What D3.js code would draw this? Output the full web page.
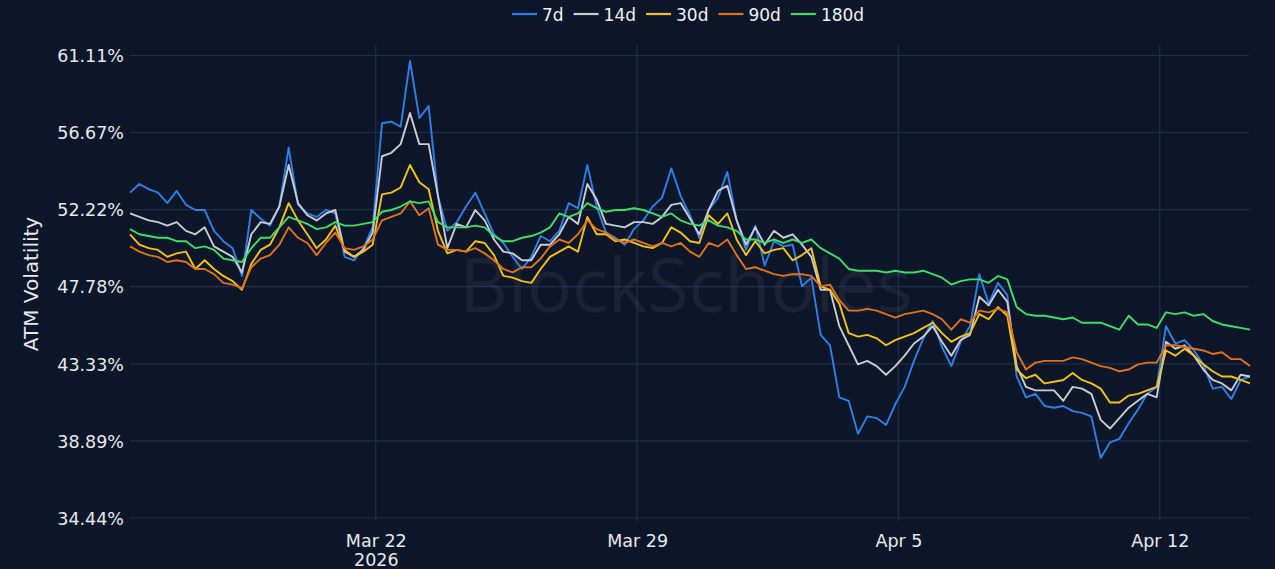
<!DOCTYPE html>
<html>
<head>
<meta charset="utf-8">
<script src="https://cdn.jsdelivr.net/npm/d3@7"></script>
<style>
  html, body { margin: 0; padding: 0; background: #0e1729; }
  svg { display: block; }
</style>
</head>
<body>
<svg id="chart" width="1275" height="569"></svg>
<script>
// ---- Data (6-hourly samples, starting 2026-03-15 10:00 UTC) ----
const startTime = "2026-03-15T10:00:00Z";
const stepHours = 6;

const seriesNames = ["7d", "14d", "30d", "90d", "180d"];
const seriesColors = ["#2f7fe6", "#c9ccd3", "#f2c21b", "#e0711f", "#3fdc68"];

const vol7d = [53.2,53.7,53.4,53.2,52.6,53.3,52.5,52.2,52.2,51.0,50.4,50.0,48.4,52.2,51.7,51.3,52.4,55.8,52.5,52.0,
51.8,52.2,52.0,49.5,49.3,50.0,51.2,57.2,57.3,57.0,60.8,57.5,58.2,53.0,51.0,51.5,52.4,53.2,52.0,50.8,
50.3,49.5,48.8,49.5,50.7,50.4,51.0,52.6,52.3,54.8,52.4,50.9,50.6,50.2,51.1,51.6,52.4,52.9,54.6,53.0,
51.9,50.6,52.2,52.9,54.4,51.6,49.9,51.3,49.0,50.4,50.1,50.2,47.8,48.3,45.0,44.4,41.4,41.2,39.3,40.3,
40.2,39.8,41.0,42.0,43.5,44.8,45.8,44.3,43.2,44.6,45.5,48.5,46.8,48.0,47.3,42.6,41.4,41.6,40.9,40.8,
40.9,40.6,40.5,40.3,37.9,38.8,39.0,39.9,40.7,41.6,42.0,45.5,44.5,44.7,44.1,43.3,41.9,42.0,41.3,42.4,42.6];

const vol14d = [52.0,51.8,51.6,51.5,51.3,51.5,51.0,50.8,51.2,50.1,49.8,49.5,48.6,50.8,51.5,51.4,52.4,54.8,52.6,51.9,
51.6,52.0,52.2,49.8,49.5,49.9,50.9,55.3,55.5,56.0,57.8,56.0,56.0,53.0,50.0,51.4,51.2,52.2,51.6,50.5,
49.8,49.7,49.3,49.3,50.2,50.2,50.8,51.8,51.4,53.7,52.8,51.4,51.3,51.2,51.5,51.5,51.4,51.8,52.5,52.6,
51.7,50.8,52.2,53.3,53.6,51.6,50.2,51.2,50.2,51.0,50.6,50.8,50.2,49.5,47.6,47.6,45.5,44.4,43.3,43.5,
43.2,42.7,43.2,43.8,44.5,44.9,45.5,44.6,43.8,44.7,45.0,47.2,46.7,47.6,46.9,43.2,42.0,41.8,41.8,41.8,
41.2,42.0,41.9,41.6,40.1,39.6,40.2,40.8,41.2,41.6,41.4,44.6,44.2,44.4,43.8,43.0,42.4,42.2,41.8,42.7,42.6];

const vol30d = [50.8,50.2,50.0,49.9,49.5,49.7,49.8,48.8,49.3,48.8,48.4,48.1,47.6,49.1,49.9,50.2,51.2,52.6,51.6,50.8,
50.0,50.5,51.3,49.9,49.5,49.8,50.2,53.1,53.2,53.5,54.8,53.8,53.4,51.0,49.7,49.9,49.8,50.4,50.3,49.6,
48.4,48.3,48.1,48.0,48.8,49.5,49.8,50.1,49.8,51.8,50.8,50.8,50.4,50.5,50.3,50.1,50.0,50.3,51.2,50.9,
50.4,50.3,51.9,51.4,52.0,50.5,49.6,50.4,49.7,49.9,50.0,49.3,49.6,50.0,47.8,47.6,46.8,45.1,44.9,45.0,
44.8,44.4,44.7,44.9,45.1,45.4,45.7,45.1,44.6,44.9,45.1,46.2,45.9,46.6,46.1,43.0,42.5,42.7,42.2,42.3,
42.4,42.8,42.4,42.2,41.9,41.1,41.1,41.5,41.6,41.8,42.0,44.1,43.8,44.2,43.8,43.3,42.9,42.6,42.6,42.4,42.2];

const vol90d = [50.1,49.8,49.6,49.5,49.2,49.3,49.2,48.8,48.8,48.5,48.0,47.9,47.7,48.9,49.4,49.6,50.2,51.2,50.6,50.3,
49.6,50.3,50.9,50.0,49.9,50.1,50.5,51.6,51.8,52.0,52.7,51.9,52.3,50.2,49.9,49.9,49.8,50.0,49.7,49.3,
48.8,48.6,48.9,48.9,49.4,50.1,50.5,50.3,50.8,51.6,51.1,50.9,50.5,50.3,50.5,50.3,50.1,50.3,50.1,50.3,
49.8,49.5,50.3,50.1,50.5,49.6,48.8,48.9,48.7,48.5,48.4,48.5,48.5,48.4,47.8,47.9,47.0,46.4,46.4,46.5,
46.4,46.2,46.0,46.2,46.3,46.4,46.2,45.9,45.3,45.9,45.7,46.4,46.3,46.5,46.3,44.0,43.0,43.4,43.5,43.5,
43.5,43.7,43.6,43.4,43.2,43.1,42.9,43.0,43.3,43.4,43.4,44.4,44.4,44.3,44.2,44.1,43.9,44.0,43.6,43.6,43.2];

const vol180d = [51.1,50.8,50.7,50.6,50.6,50.4,50.4,50.0,50.1,49.9,49.4,49.3,49.2,50.0,50.6,50.6,51.2,51.8,51.6,51.4,
51.1,51.2,51.5,51.3,51.3,51.4,51.5,52.1,52.2,52.4,52.7,52.6,52.7,51.5,51.2,51.2,51.2,51.3,51.2,50.7,
50.4,50.4,50.6,50.7,50.9,51.2,52.0,51.8,52.0,52.6,52.3,52.1,52.2,52.2,52.3,52.2,52.0,51.8,52.0,51.6,
51.4,51.3,51.6,51.3,51.2,51.0,50.5,50.5,50.3,50.5,50.3,50.5,50.3,50.5,50.0,49.7,49.4,48.8,48.7,48.7,
48.7,48.6,48.7,48.6,48.6,48.7,48.5,48.3,47.9,48.1,48.2,48.2,48.0,48.4,48.2,46.6,46.2,46.1,46.1,46.0,
45.9,46.0,45.7,45.7,45.7,45.5,45.3,46.1,45.6,45.6,45.4,46.3,46.2,46.3,46.1,46.2,45.8,45.6,45.5,45.4,45.3];

const yTickValues = [34.44, 38.89, 43.33, 47.78, 52.22, 56.67, 61.11];
const xTickDates = ["2026-03-22", "2026-03-29", "2026-04-05", "2026-04-12"];
const xTickLabels = [["Mar 22", "2026"], ["Mar 29"], ["Apr 5"], ["Apr 12"]];
const yAxisTitle = "ATM Volatility";
const watermarkText = "BlockScholes";

// ---- Build ----
(function () {
const allSeries = [vol7d, vol14d, vol30d, vol90d, vol180d];
const t0 = new Date(startTime).getTime();
const times = vol7d.map((_, i) => new Date(t0 + i * stepHours * 3600 * 1000));

const svg = d3.select("#chart");
const W = 1275, H = 569;
const pLeft = 130, pRight = 1250, pTop = 45, pBottom = 521;

svg.append("rect").attr("width", W).attr("height", H).attr("fill", "#0e1729");

const x = d3.scaleUtc()
  .domain([times[0], times[times.length - 1]])
  .range([pLeft, pRight]);
const y = d3.scaleLinear()
  .domain([34.44, 61.11])
  .range([518, 55.5]);

const font = "'DejaVu Sans', Verdana, sans-serif";
const gridColor = "#212e4a";

// horizontal grid
svg.append("g").selectAll("line").data(yTickValues).join("line")
  .attr("x1", pLeft).attr("x2", 1249)
  .attr("y1", d => y(d)).attr("y2", d => y(d))
  .attr("stroke", gridColor).attr("stroke-width", 1.2);

// vertical grid
const xTicks = xTickDates.map(d => new Date(d + "T00:00:00Z"));
svg.append("g").selectAll("line").data(xTicks).join("line")
  .attr("x1", d => x(d)).attr("x2", d => x(d))
  .attr("y1", pTop).attr("y2", pBottom)
  .attr("stroke", gridColor).attr("stroke-width", 1.2);

// watermark
svg.append("text")
  .attr("x", 686).attr("y", 312)
  .attr("text-anchor", "middle")
  .attr("font-family", "'Open Sans', sans-serif")
  .attr("font-size", 75)
  .attr("fill", "rgba(255,255,255,0.05)")
  .text(watermarkText);

// y axis labels
const yAxis = d3.axisLeft(y).tickValues(yTickValues)
  .tickFormat(d => d.toFixed(2) + "%").tickSize(0).tickPadding(0);
const gy = svg.append("g").attr("transform", "translate(124,0)").call(yAxis);
gy.select(".domain").remove();
gy.selectAll("text")
  .attr("font-family", font).attr("font-size", 17.5)
  .attr("fill", "#e6e8ec").attr("dy", "0.36em");

// x axis labels
const xAxis = d3.axisBottom(x).tickValues(xTicks).tickSize(0).tickFormat("");
const gx = svg.append("g").attr("transform", `translate(0,${pBottom})`).call(xAxis);
gx.select(".domain").remove();
gx.selectAll(".tick").each(function(d, i) {
  const t = d3.select(this).select("text");
  t.text(null).attr("y", 0).attr("dy", null)
    .attr("font-family", font).attr("font-size", 17.5).attr("fill", "#e6e8ec");
  xTickLabels[i].forEach((s, k) => {
    t.append("tspan").attr("x", 0).attr("y", 26 + k * 18.5).text(s);
  });
});

// y title
svg.append("text")
  .attr("transform", "translate(38,284) rotate(-90)")
  .attr("text-anchor", "middle")
  .attr("font-family", font).attr("font-size", 20)
  .attr("fill", "#e6e8ec")
  .text(yAxisTitle);

// lines
const line = d3.line().x((d, i) => x(times[i])).y(d => y(d));
svg.append("g").selectAll("path").data(allSeries).join("path")
  .attr("d", d => line(d))
  .attr("fill", "none")
  .attr("stroke", (d, i) => seriesColors[i])
  .attr("stroke-width", 1.9)
  .attr("stroke-linejoin", "round");

// legend
const lg = svg.append("g");
let lx = 512;
seriesNames.forEach((name, i) => {
  lg.append("line").attr("x1", lx).attr("x2", lx + 25).attr("y1", 14).attr("y2", 14)
    .attr("stroke", seriesColors[i]).attr("stroke-width", 2.2);
  const t = lg.append("text").attr("x", lx + 30).attr("y", 20.5)
    .attr("font-family", font).attr("font-size", 17).attr("fill", "#f0f1f3").text(name);
  lx += 30 + t.node().getComputedTextLength() + 10;
});
})();
</script>
</body>
</html>
